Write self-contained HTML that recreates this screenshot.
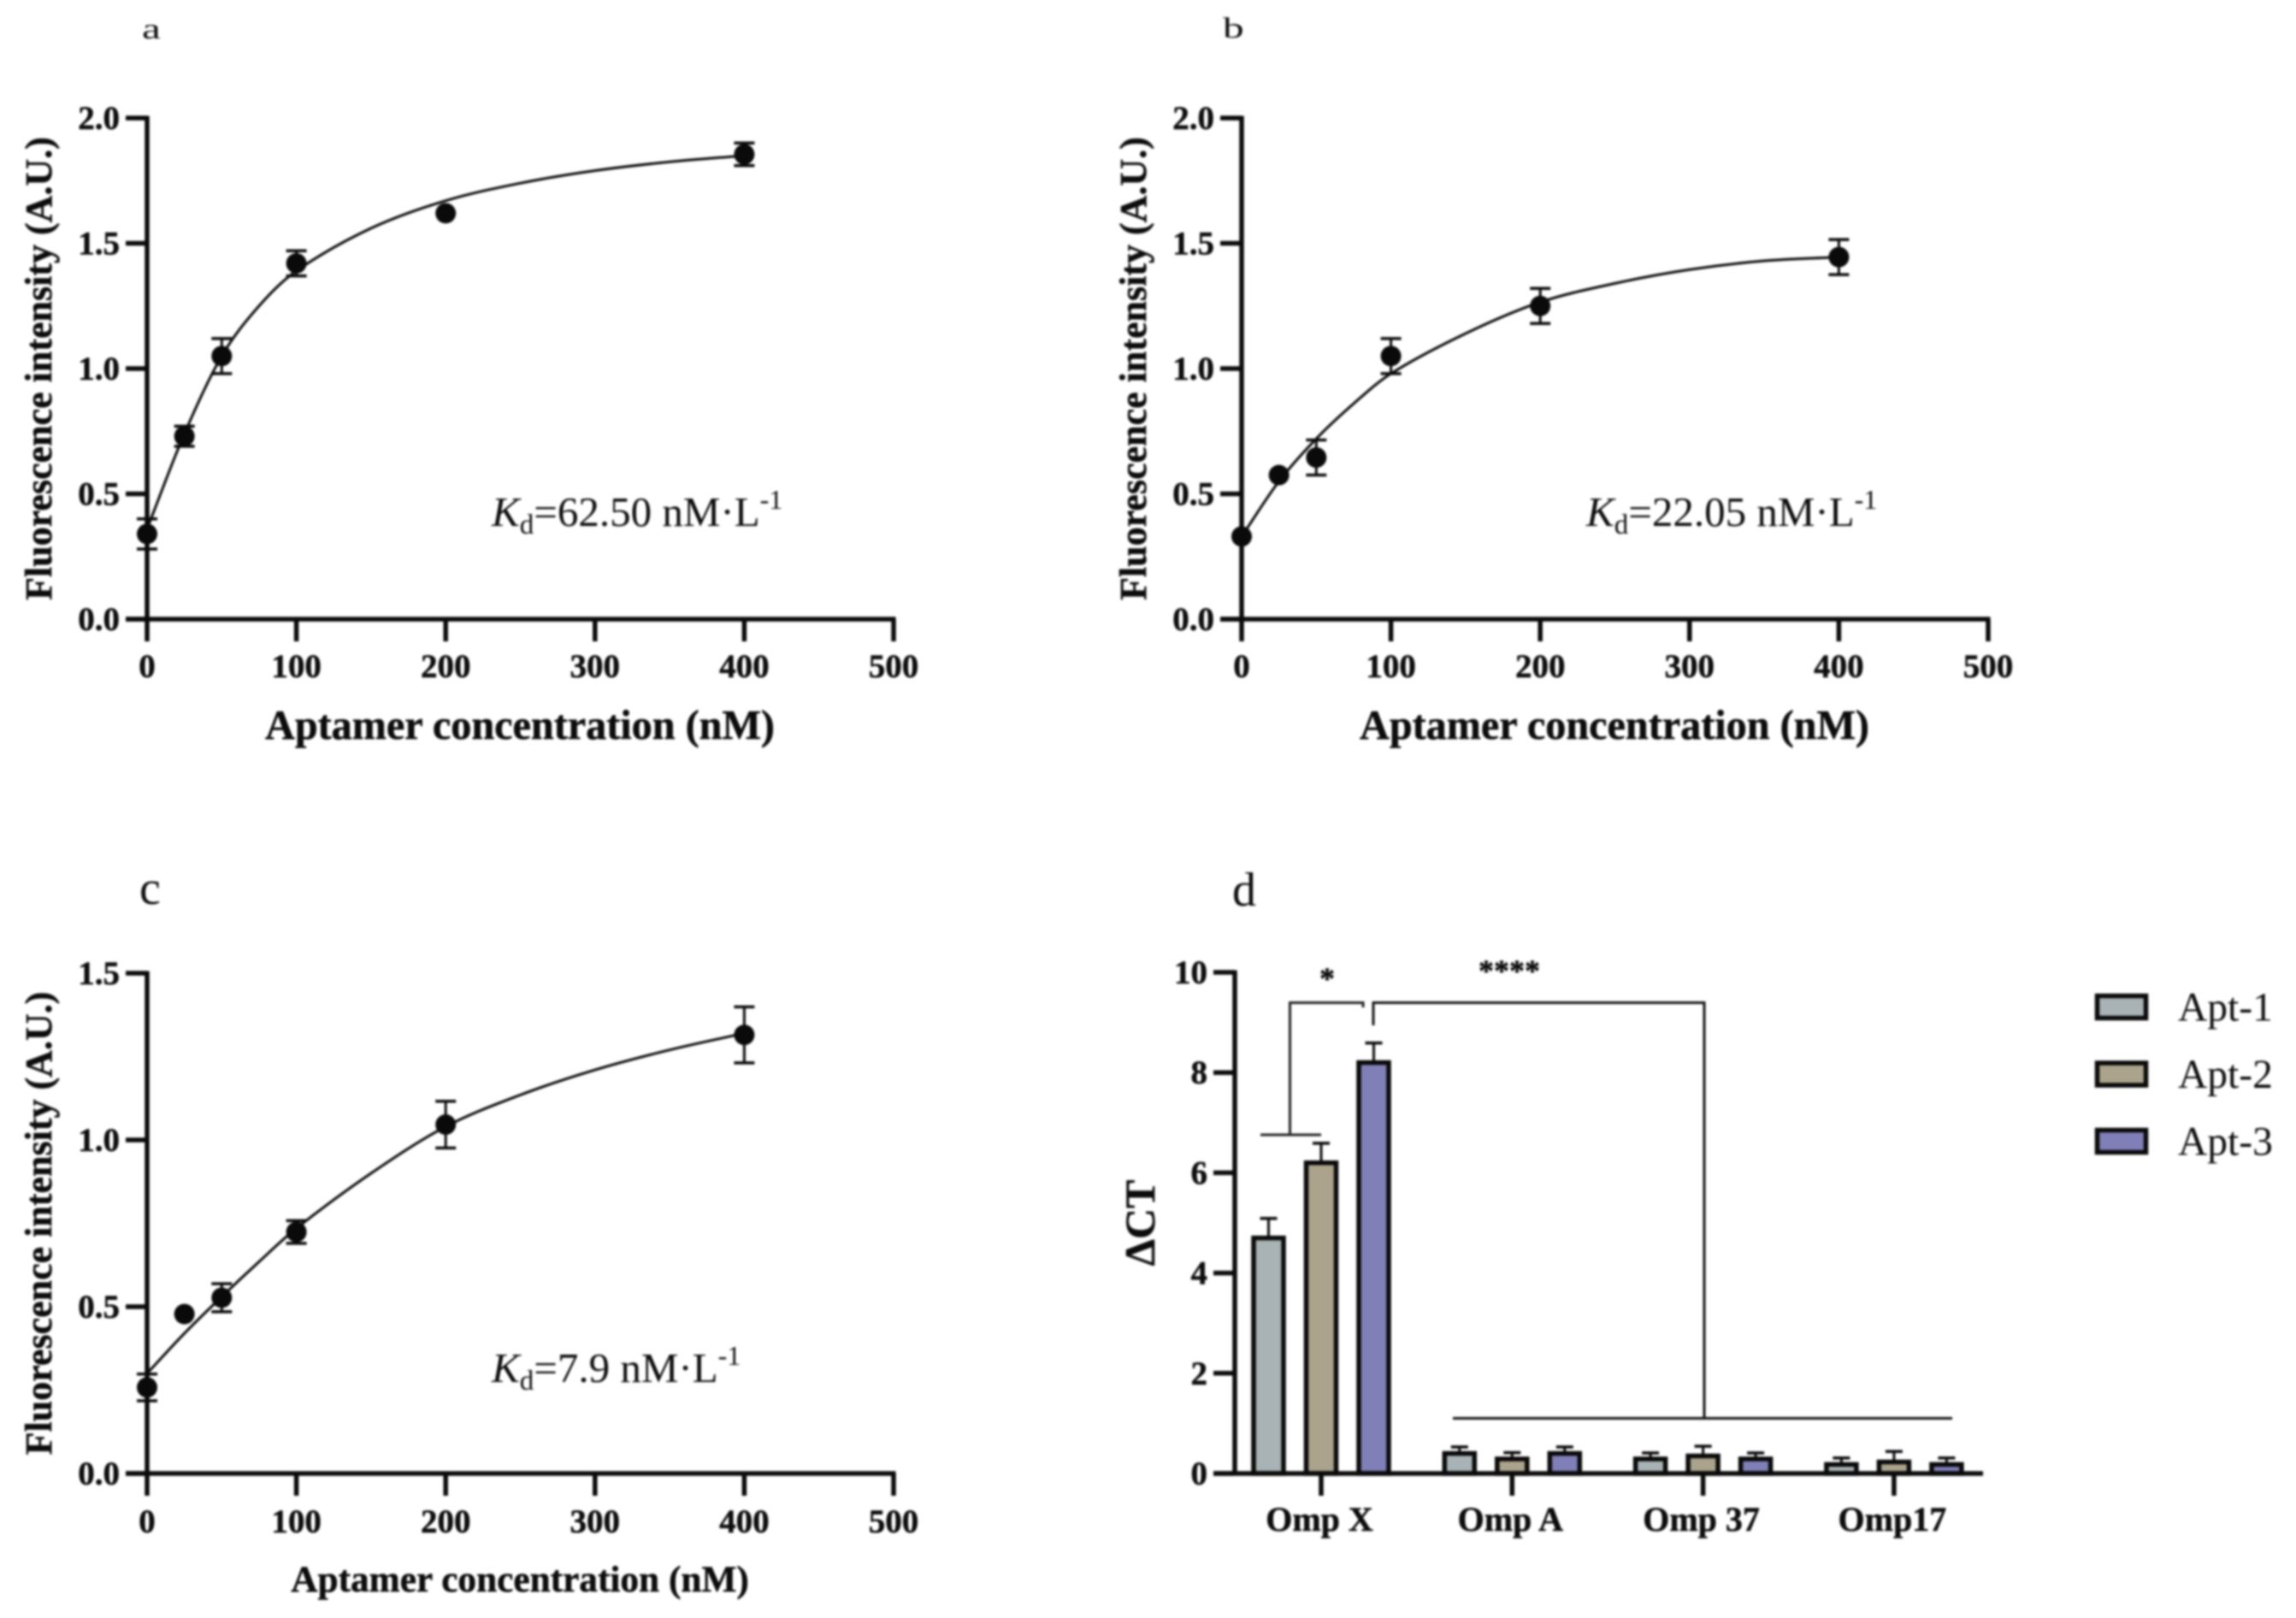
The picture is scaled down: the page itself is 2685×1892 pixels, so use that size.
<!DOCTYPE html>
<html lang="en">
<head>
<meta charset="utf-8">
<title>Aptamer binding curves and specificity</title>
<style>
html,body{margin:0;padding:0;background:#fff;}
body{width:2685px;height:1892px;overflow:hidden;}
svg{display:block;filter:blur(1.3px);}
text{font-family:"Liberation Serif","DejaVu Serif",serif;fill:#0c0c0c;}
text[font-weight="bold"]{stroke:#0c0c0c;stroke-width:0.5px;}
</style>
</head>
<body>
<svg id="figure" xmlns="http://www.w3.org/2000/svg" width="2685" height="1892" viewBox="0 0 2685 1892">
  <rect x="0" y="0" width="2685" height="1892" fill="#fff"/>
  <text transform="translate(166 45) scale(1.45 1)" font-size="34">a</text>
  <text transform="translate(1430 44) scale(1.45 1)" font-size="34">b</text>
  <text x="163" y="1057" font-size="56">c</text>
  <text x="1441" y="1059" font-size="56">d</text>
  <text x="575" y="615" font-size="49"><tspan font-style="italic">K</tspan><tspan dy="9" font-size="33">d</tspan><tspan dy="-9">=62.50 nM·L</tspan><tspan dy="-20" font-size="32">-1</tspan></text>
  <text x="1855" y="615" font-size="49"><tspan font-style="italic">K</tspan><tspan dy="9" font-size="33">d</tspan><tspan dy="-9">=22.05 nM·L</tspan><tspan dy="-20" font-size="32">-1</tspan></text>
  <text x="575" y="1616" font-size="49"><tspan font-style="italic">K</tspan><tspan dy="9" font-size="33">d</tspan><tspan dy="-9">=7.9 nM·L</tspan><tspan dy="-20" font-size="32">-1</tspan></text>
</svg>
<script>
// Shared binding-curve categories and tick labels
const concentrations = [0, 25, 50, 100, 200, 400];
const curveConcentrations = [0, 25, 50, 75, 100, 150, 200, 250, 300, 350, 400];
const bindingXTicks = [0, 100, 200, 300, 400, 500];

// Panel a
const valuesA = [0.34, 0.73, 1.05, 1.42, 1.62, 1.855];
const errorsA = [0.06, 0.04, 0.07, 0.05, 0, 0.045];
const curveA = [0.36, 0.74, 1.05, 1.25, 1.39, 1.56, 1.67, 1.74, 1.79, 1.825, 1.85];
const yTicksA = ["0.0", "0.5", "1.0", "1.5", "2.0"];

// Panel b
const valuesB = [0.33, 0.575, 0.645, 1.05, 1.25, 1.445];
const errorsB = [0, 0, 0.07, 0.07, 0.07, 0.07];
const curveB = [0.33, 0.55, 0.72, 0.86, 0.98, 1.14, 1.265, 1.34, 1.395, 1.43, 1.445];
const yTicksB = ["0.0", "0.5", "1.0", "1.5", "2.0"];

// Panel c
const valuesC = [0.258, 0.478, 0.527, 0.724, 1.046, 1.315];
const errorsC = [0.04, 0, 0.042, 0.034, 0.07, 0.084];
const curveC = [0.30, 0.42, 0.53, 0.635, 0.735, 0.90, 1.04, 1.135, 1.21, 1.27, 1.32];
const yTicksC = ["0.0", "0.5", "1.0", "1.5"];

// Panel d
const categoriesD = ["Omp X", "Omp A", "Omp 37", "Omp17"];
const seriesNamesD = ["Apt-1", "Apt-2", "Apt-3"];
const seriesColorsD = ["#a9b3b6", "#aba38b", "#807fb8"];
const apt1Values = [4.70, 0.40, 0.29, 0.18];
const apt2Values = [6.20, 0.29, 0.35, 0.23];
const apt3Values = [8.20, 0.40, 0.29, 0.18];
const apt1Errors = [0.39, 0.13, 0.12, 0.13];
const apt2Errors = [0.39, 0.125, 0.195, 0.21];
const apt3Errors = [0.39, 0.13, 0.12, 0.13];
const yTicksD = [0, 2, 4, 6, 8, 10];

const svg = document.getElementById('figure');
const NS = 'http://www.w3.org/2000/svg';
const INK = '#0a0a0a';

function line(parent, x1, y1, x2, y2, w) {
  const el = document.createElementNS(NS, 'line');
  el.setAttribute('x1', x1);
  el.setAttribute('y1', y1);
  el.setAttribute('x2', x2);
  el.setAttribute('y2', y2);
  el.setAttribute('stroke', INK);
  el.setAttribute('stroke-width', w);
  parent.appendChild(el);
  return el;
}

function label(parent, str, x, y, size, anchor, bold) {
  const el = document.createElementNS(NS, 'text');
  el.textContent = str;
  el.setAttribute('x', x);
  el.setAttribute('y', y);
  el.setAttribute('font-size', size);
  el.setAttribute('text-anchor', anchor);
  if (bold) el.setAttribute('font-weight', 'bold');
  parent.appendChild(el);
  return el;
}

function group(name) {
  const g = document.createElementNS(NS, 'g');
  
  
  svg.appendChild(g);
  return g;
}

// Hermite spline with slopes that respect uneven x spacing
function smoothPath(pts) {
  const slope = i => {
    const a = pts[Math.max(i - 1, 0)];
    const b = pts[Math.min(i + 1, pts.length - 1)];
    return (b[1] - a[1]) / (b[0] - a[0]);
  };
  let d = 'M' + pts[0][0] + ' ' + pts[0][1];
  for (let i = 0; i < pts.length - 1; i++) {
    const p1 = pts[i];
    const p2 = pts[i + 1];
    const dx = (p2[0] - p1[0]) / 3;
    d += ' C' + (p1[0] + dx) + ' ' + (p1[1] + slope(i) * dx) + ' ' + (p2[0] - dx) + ' ' + (p2[1] - slope(i + 1) * dx) + ' ' + p2[0] + ' ' + p2[1];
  }
  return d;
}

function drawBindingPanel(id, left, top, bottom, xLabelBaseline, xTitleBaseline, xTitleSize, yTickLabels, values, errors, curve) {
  const g = group('binding-chart-' + id);
  const right = left + 873;
  const yMax = parseFloat(yTickLabels[yTickLabels.length - 1]);
  const xScale = v => left + (v / 500) * (right - left);
  const yScale = v => bottom - (v / yMax) * (bottom - top);

  // fit curve
  const pathEl = document.createElementNS(NS, 'path');
  
  
  pathEl.setAttribute('d', smoothPath(curve.map((v, i) => [xScale(curveConcentrations[i]), yScale(v)])));
  pathEl.setAttribute('fill', 'none');
  pathEl.setAttribute('stroke', INK);
  pathEl.setAttribute('stroke-width', '3');
  g.appendChild(pathEl);

  // error bars and points
  concentrations.forEach((c, i) => {
    const px = xScale(c);
    if (errors[i] > 0) {
      const hi = yScale(values[i] + errors[i]);
      const lo = yScale(values[i] - errors[i]);
      const stem = line(g, px, hi, px, lo, 3);
      
      
      const capHi = line(g, px - 12, hi, px + 12, hi, 3.5);
      
      
      const capLo = line(g, px - 12, lo, px + 12, lo, 3.5);
      
      
    }
    const dot = document.createElementNS(NS, 'circle');
    
    
    dot.setAttribute('cx', px);
    dot.setAttribute('cy', yScale(values[i]));
    dot.setAttribute('r', '12');
    dot.setAttribute('fill', INK);
    g.appendChild(dot);
  });

  // axes
  const yAxis = line(g, left, top - 2.5, left, bottom + 2.5, 5.5);
  
  
  const xAxis = line(g, left - 25, bottom, right + 2.5, bottom, 5.5);
  
  

  yTickLabels.forEach(t => {
    const py = yScale(parseFloat(t));
    const tick = line(g, left - 25, py, left, py, 5.5);
    
    
    const tl = label(g, t, left - 32, py + 13, 39, 'end', true);
    
    
  });

  bindingXTicks.forEach(t => {
    const px = xScale(t);
    const tick = line(g, px, bottom, px, bottom + 26, 5.5);
    
    
    const tl = label(g, String(t), px, xLabelBaseline, 39, 'middle', true);
    
    
  });

  const xTitle = label(g, 'Aptamer concentration (nM)', left + 436, xTitleBaseline, xTitleSize, 'middle', true);
  
  

  const midY = (top + bottom) / 2;
  const yTitleX = left - 112;
  const yTitle = label(g, 'Fluorescence intensity (A.U.)', 0, 0, 44, 'middle', true);
  yTitle.setAttribute('transform', 'translate(' + yTitleX + ' ' + midY + ') rotate(-90)');
  
  
}

drawBindingPanel('a', 172, 138, 724, 792, 864, 48.2, yTicksA, valuesA, errorsA, curveA);
drawBindingPanel('b', 1452, 138, 724, 792, 864, 48.2, yTicksB, valuesB, errorsB, curveB);
drawBindingPanel('c', 172, 1138, 1723, 1792, 1861, 43.3, yTicksC, valuesC, errorsC, curveC);

// Panel d bar chart
(function drawBars() {
  const g = group('bar-chart-d');
  const axisX = 1444;
  const y0 = 1723;
  const y10 = 1137;
  const yScale = v => y0 - (v / 10) * (y0 - y10);
  const groupX = i => 1545 + i * 223.3;
  const barOffset = s => (s - 1) * 61.5;
  const seriesValues = [apt1Values, apt2Values, apt3Values];
  const seriesErrors = [apt1Errors, apt2Errors, apt3Errors];

  categoriesD.forEach((cat, c) => {
    seriesNamesD.forEach((name, s) => {
      const cx = groupX(c) + barOffset(s);
      const v = seriesValues[s][c];
      const top = yScale(v);
      const errTop = yScale(v + seriesErrors[s][c]);
      const stem = line(g, cx, errTop, cx, top, 3);
      
      
      const cap = line(g, cx - 10, errTop, cx + 10, errTop, 3.5);
      
      
      const bar = document.createElementNS(NS, 'rect');
      
      
      bar.setAttribute('x', cx - 17.5);
      bar.setAttribute('y', top);
      bar.setAttribute('width', 35);
      bar.setAttribute('height', y0 - top);
      bar.setAttribute('fill', seriesColorsD[s]);
      bar.setAttribute('stroke', INK);
      bar.setAttribute('stroke-width', 5.5);
      g.appendChild(bar);
    });
    const tick = line(g, groupX(c), y0, groupX(c), y0 + 26, 5.5);
    
    
    const tl = label(g, cat, groupX(c) - 2, 1790, 40, 'middle', true);
    
    
  });

  const yAxis = line(g, axisX, y10 - 2.5, axisX, y0 + 2.5, 5.5);
  
  
  const xAxis = line(g, axisX - 25, y0, 2319, y0, 5.5);
  
  

  yTicksD.forEach(t => {
    const py = yScale(t);
    const tick = line(g, axisX - 25, py, axisX, py, 5.5);
    
    
    const tl = label(g, String(t), 1412, py + 13, 39, 'end', true);
    
    
  });

  const yTitle = label(g, 'ΔCT', 0, 0, 50, 'middle', true);
  yTitle.setAttribute('transform', 'translate(1350 1430) rotate(-90)');
  
  

  // significance brackets
  const sig = group('significance-brackets');
  const brk1 = document.createElementNS(NS, 'path');
  
  
  brk1.setAttribute('d', 'M1508.5 1327V1172.5H1594V1178M1474 1327H1545');
  brk1.setAttribute('fill', 'none');
  brk1.setAttribute('stroke', '#222');
  brk1.setAttribute('stroke-width', '3');
  sig.appendChild(brk1);
  const brk2 = document.createElementNS(NS, 'path');
  
  
  brk2.setAttribute('d', 'M1606 1199V1172.5H1993V1658.5M1699 1658.5H2283');
  brk2.setAttribute('fill', 'none');
  brk2.setAttribute('stroke', '#111');
  brk2.setAttribute('stroke-width', '3');
  sig.appendChild(brk2);
  const s1 = label(sig, '*', 1552, 1156, 36, 'middle', true);
  
  
  const s2 = label(sig, '****', 1765, 1147, 36, 'middle', true);
  
  

  // legend
  const legend = group('legend');
  seriesNamesD.forEach((name, s) => {
    const top = 1164.5 + s * 78.5;
    const sw = document.createElementNS(NS, 'rect');
    
    
    sw.setAttribute('x', 2452.5);
    sw.setAttribute('y', top);
    sw.setAttribute('width', 57);
    sw.setAttribute('height', 26);
    sw.setAttribute('fill', seriesColorsD[s]);
    sw.setAttribute('stroke', INK);
    sw.setAttribute('stroke-width', 5.5);
    legend.appendChild(sw);
    const t = label(legend, name, 2547, top + 29, 47.5, 'start', false);
    
    
  });
})();
</script>
</body>
</html>
